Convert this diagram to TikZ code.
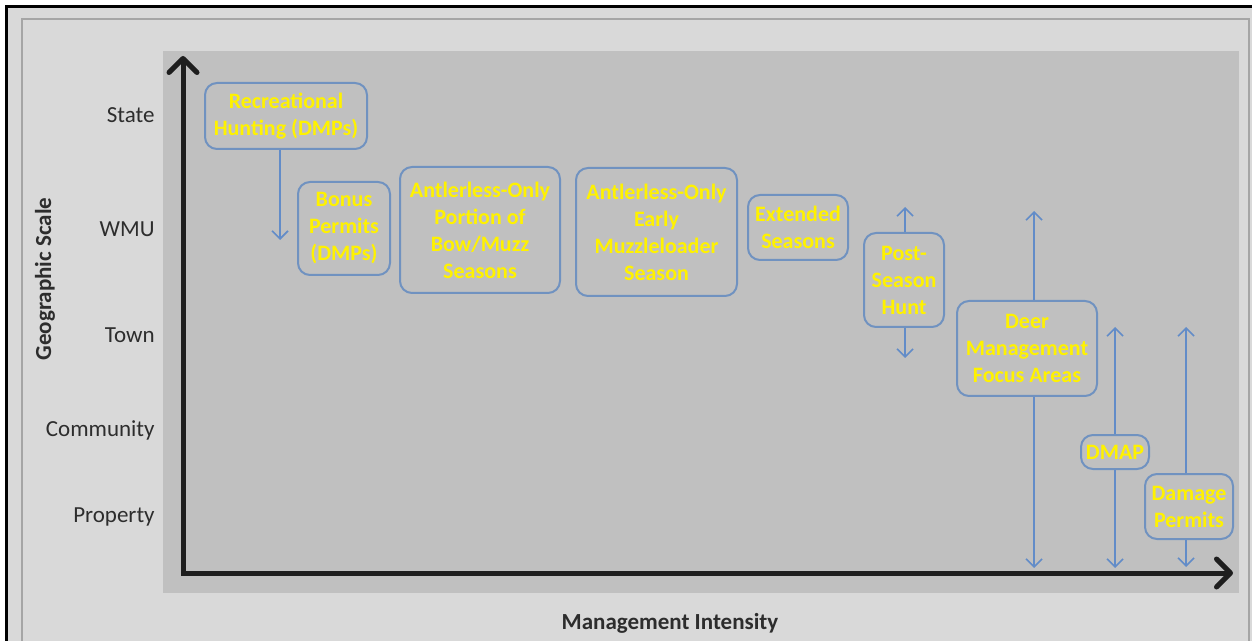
\documentclass[tikz,border=0pt]{standalone}
\usepackage{fontspec}
\setmainfont{Carlito}
\usetikzlibrary{arrows.meta}
\definecolor{plotgray}{RGB}{192,192,192}
\definecolor{pagegray}{RGB}{217,217,217}
\definecolor{edgegray}{RGB}{165,165,165}
\definecolor{boxblue}{RGB}{112,146,192}
\definecolor{arrowblue}{RGB}{98,140,200}
\definecolor{axisblack}{RGB}{30,30,30}
\definecolor{labelgray}{RGB}{45,45,45}
\begin{document}
\begin{tikzpicture}[x=0.5pt,y=-0.5pt,
    measurebox/.style={draw=boxblue,line width=1pt,rounded corners=6pt,text=yellow,
        font=\fontsize{11}{13.5}\selectfont\bfseries,align=center,inner sep=1pt},
    scalelabel/.style={anchor=east,inner sep=0pt,text=labelgray,font=\fontsize{11.5}{14}\selectfont},
    axisname/.style={inner sep=0pt,text=labelgray,font=\fontsize{11.5}{14}\selectfont\bfseries},
    spanarrow/.style={draw=arrowblue,line width=0.8pt,-{Straight Barb[length=4pt,width=8pt]}},
    axisline/.style={draw=axisblack,line width=2.5pt,
        {Straight Barb[length=7pt,width=14pt,round]}-{Straight Barb[length=7pt,width=14pt,round]}}]
    \clip (0,0) rectangle (1252,641);
    \fill[white] (0,0) rectangle (1252,641);
    \filldraw[fill=pagegray,draw=black,line width=1.5pt] (6,7) rectangle (1262,660);
    \draw[edgegray,line width=0.8pt] (22,19) rectangle (1249,680);
    \fill[plotgray] (163,51) rectangle (1239,593);

    \foreach \name/\ypos in {State/115,WMU/229,Town/335,Community/430,Property/517}
        \node[scalelabel] (\name) at (155,\ypos) {\name};
    \node[axisname,rotate=90] (yname) at (45,279) {Geographic Scale};
    \node[axisname] (xname) at (670,623) {Management Intensity};

    \coordinate (origin) at (183,573);
    \coordinate (ytip) at (183,56);
    \coordinate (xtip) at (1233,573);
    \draw[axisline] (ytip) -- (origin) -- (xtip);

    \node[measurebox,minimum width=81pt,minimum height=33pt] (rec) at (286,116) {Recreational\\Hunting (DMPs)};
    \node[measurebox,minimum width=46pt,minimum height=46.5pt] (bonus) at (344,228.5) {Bonus\\Permits\\(DMPs)};
    \node[measurebox,minimum width=80pt,minimum height=63pt] (bowmuzz) at (480,230) {Antlerless-Only\\Portion of\\Bow/Muzz\\Seasons};
    \node[measurebox,minimum width=80.5pt,minimum height=64pt] (early) at (656.5,232) {Antlerless-Only\\Early\\Muzzleloader\\Season};
    \node[measurebox,minimum width=50pt,minimum height=32.5pt] (ext) at (798,227.5) {Extended\\Seasons};
    \node[measurebox,minimum width=40pt,minimum height=47pt] (post) at (904,280) {Post-\\Season\\Hunt};
    \node[measurebox,minimum width=70pt,minimum height=47.5pt] (dmfa) at (1027,348.5) {Deer\\Management\\Focus Areas};
    \node[measurebox,minimum width=34pt,minimum height=17pt] (dmap) at (1115,452) {DMAP};
    \node[measurebox,minimum width=44pt,minimum height=32.5pt] (damage) at (1189,506.5) {Damage\\Permits};

    \coordinate (rec end) at (280,240);
    \coordinate (post top) at (905,207);
    \coordinate (post bottom) at (905,358);
    \coordinate (dmfa top) at (1034,211);
    \coordinate (dmfa bottom) at (1034,568);
    \coordinate (dmap top) at (1115,327);
    \coordinate (dmap bottom) at (1115,568);
    \coordinate (damage top) at (1186,327);
    \coordinate (damage bottom) at (1186,567);
    \draw[spanarrow] (rec.south -| rec end) -- (rec end);
    \draw[spanarrow] (post.north -| post top) -- (post top);
    \draw[spanarrow] (post.south -| post bottom) -- (post bottom);
    \draw[spanarrow] (dmfa.north -| dmfa top) -- (dmfa top);
    \draw[spanarrow] (dmfa.south -| dmfa bottom) -- (dmfa bottom);
    \draw[spanarrow] (dmap.north -| dmap top) -- (dmap top);
    \draw[spanarrow] (dmap.south -| dmap bottom) -- (dmap bottom);
    \draw[spanarrow] (damage.north -| damage top) -- (damage top);
    \draw[spanarrow] (damage.south -| damage bottom) -- (damage bottom);
\end{tikzpicture}
\end{document}
